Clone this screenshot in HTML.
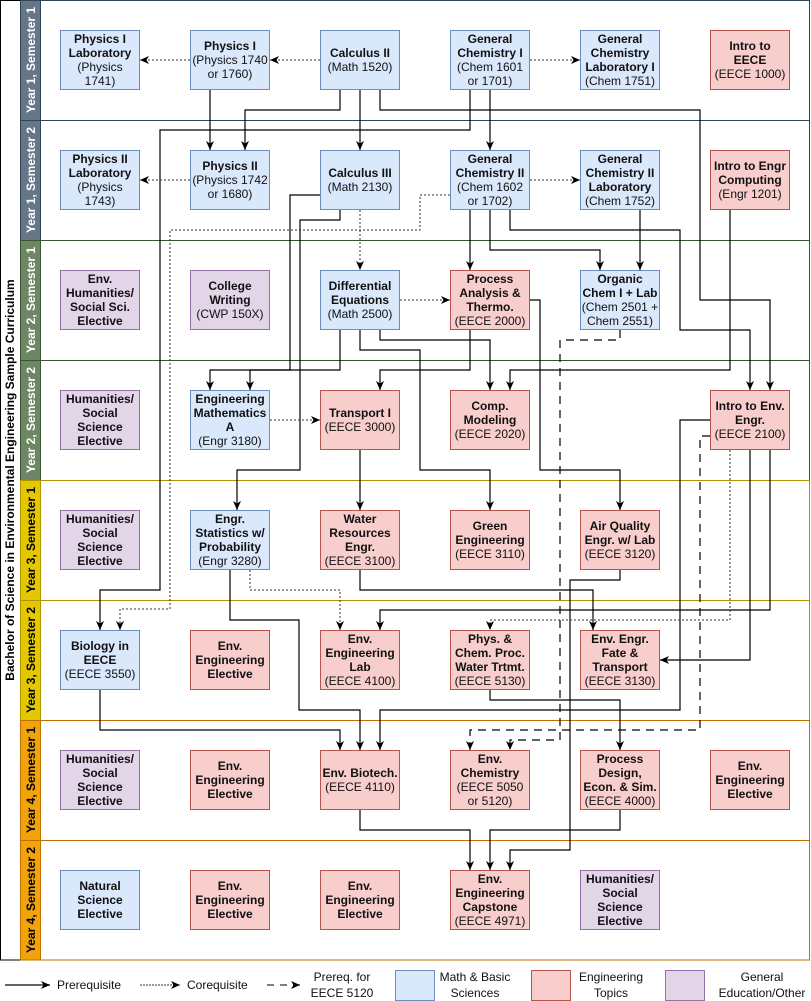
<!DOCTYPE html>
<html><head><meta charset="utf-8"><style>
body{margin:0;background:#fff;}
#w{position:relative;width:811px;height:1001px;overflow:hidden;font-family:"Liberation Sans",Arial,sans-serif;}
.n{position:absolute;width:80px;height:60px;box-sizing:border-box;border:1px solid;display:flex;align-items:center;justify-content:center;text-align:center;font-size:12px;line-height:14px;white-space:nowrap;color:#111;}
.b{background:#dae8fc;border-color:#6c8ebf;}
.r{background:#f8cecc;border-color:#b85450;}
.p{background:#e1d5e7;border-color:#9673a6;}
svg{position:absolute;left:0;top:0;}
</style></head><body><div id="w">
<svg width="811" height="1001" font-family="Liberation Sans, Arial, sans-serif">
<defs>
<marker id="m" markerUnits="userSpaceOnUse" markerWidth="10" markerHeight="10" refX="9" refY="5" orient="auto"><path d="M0,1 L9,5 L0,9 L2.5,5 Z" fill="#000"/></marker>
</defs>
<rect x="0.5" y="0.5" width="20" height="959.5" fill="#fff" stroke="#000"/>
<text transform="translate(14,480) rotate(-90)" text-anchor="middle" font-size="12" font-weight="bold">Bachelor of Science in Environmental Engineering Sample Curriculum</text>
<g font-size="12" font-weight="bold" fill="#fff" text-anchor="middle">
<rect x="20.5" y="0.5" width="789" height="120" fill="none" stroke="#314354"/>
<rect x="20.5" y="0.5" width="20" height="120" fill="#647687" stroke="#314354"/>
<text transform="translate(35,60) rotate(-90)">Year 1, Semester 1</text>
<rect x="20.5" y="120.5" width="789" height="120" fill="none" stroke="#314354"/>
<rect x="20.5" y="120.5" width="20" height="120" fill="#647687" stroke="#314354"/>
<text transform="translate(35,180) rotate(-90)">Year 1, Semester 2</text>
<rect x="20.5" y="240.5" width="789" height="120" fill="none" stroke="#3A5431"/>
<rect x="20.5" y="240.5" width="20" height="120" fill="#6d8764" stroke="#3A5431"/>
<text transform="translate(35,300) rotate(-90)">Year 2, Semester 1</text>
<rect x="20.5" y="360.5" width="789" height="120" fill="none" stroke="#3A5431"/>
<rect x="20.5" y="360.5" width="20" height="120" fill="#6d8764" stroke="#3A5431"/>
<text transform="translate(35,420) rotate(-90)">Year 2, Semester 2</text>
</g>
<g font-size="12" font-weight="bold" fill="#000" text-anchor="middle">
<rect x="20.5" y="480.5" width="789" height="120" fill="none" stroke="#B09500"/>
<rect x="20.5" y="480.5" width="20" height="120" fill="#e3c800" stroke="#B09500"/>
<text transform="translate(35,540) rotate(-90)">Year 3, Semester 1</text>
<rect x="20.5" y="600.5" width="789" height="120" fill="none" stroke="#B09500"/>
<rect x="20.5" y="600.5" width="20" height="120" fill="#e3c800" stroke="#B09500"/>
<text transform="translate(35,660) rotate(-90)">Year 3, Semester 2</text>
<rect x="20.5" y="720.5" width="789" height="120" fill="none" stroke="#BD7000"/>
<rect x="20.5" y="720.5" width="20" height="120" fill="#f0a30a" stroke="#BD7000"/>
<text transform="translate(35,780) rotate(-90)">Year 4, Semester 1</text>
<rect x="20.5" y="840.5" width="789" height="119.5" fill="none" stroke="#BD7000"/>
<rect x="20.5" y="840.5" width="20" height="119.5" fill="#f0a30a" stroke="#BD7000"/>
<text transform="translate(35,900) rotate(-90)">Year 4, Semester 2</text>
</g>
<g fill="none" stroke="#000" stroke-width="1.2" marker-end="url(#m)">
<path d="M210 90V150"/><path d="M360 90V150"/><path d="M490 90V150"/>
<path d="M340 90V110H245V150"/>
<path d="M470 90V130H160V590H100V630"/>
<path d="M380 90V110H700V300H770V390"/>
<path d="M320 195H290V370H210V390"/>
<path d="M340 210V220H300V470H237V510"/>
<path d="M340 330V370H250V390"/>
<path d="M470 210V270"/>
<path d="M490 210V250H600V270"/>
<path d="M510 210V230H680V330H750V390"/>
<path d="M640 210V270"/>
<path d="M730 210V370H510V390"/>
<path d="M470 330V370H380V390"/>
<path d="M380 330V340H490V390"/>
<path d="M360 330V350H420V470H490V510"/>
<path d="M530 300H540V470H620V510"/>
<path d="M360 450V510"/>
<path d="M360 570V590H593V630"/>
<path d="M620 570V580H570V850H510V870"/>
<path d="M230 570V620H299V710H360V750"/>
<path d="M710 420H680V710H380V750"/>
<path d="M750 450V660H660"/>
<path d="M770 450V610H380V630"/>
<path d="M100 690V730H340V750"/>
<path d="M490 690V700H620V750"/>
<path d="M360 810V830H470V870"/>
<path d="M620 810V830H490V870"/>
</g>
<g fill="none" stroke="#333" stroke-width="1" stroke-dasharray="2,2" marker-end="url(#m)">
<path d="M190 60H140"/><path d="M320 60H270"/><path d="M530 60H580"/>
<path d="M190 180H140"/><path d="M530 180H580"/><path d="M360 210V270"/>
<path d="M400 300H450"/><path d="M270 420H320"/>
<path d="M450 195H420V230H170V609H120V630"/>
<path d="M250 570V590H340V630"/>
<path d="M730 450V620H490V630"/>
</g>
<g fill="none" stroke="#000" stroke-width="1.2" stroke-dasharray="8,6" marker-end="url(#m)">
<path d="M620 330V340H560V740H510V750"/>
<path d="M710 436H700V730H470V750"/>
</g>
<g font-size="12" fill="#111">
<path d="M5 985H50" stroke="#333" stroke-width="1.5" marker-end="url(#m)"/>
<text x="57" y="989">Prerequisite</text>
<path d="M140 985H180" stroke="#333" stroke-width="1" stroke-dasharray="2,1" marker-end="url(#m)"/>
<text x="187" y="989">Corequisite</text>
<path d="M267 985H300" stroke="#333" stroke-width="1.2" stroke-dasharray="7,6" marker-end="url(#m)"/>
<text x="342" y="981" text-anchor="middle">Prereq. for</text>
<text x="342" y="997" text-anchor="middle">EECE 5120</text>
<rect x="395.5" y="970.5" width="39" height="30" fill="#dae8fc" stroke="#6c8ebf"/>
<text x="475" y="981" text-anchor="middle">Math &amp; Basic</text>
<text x="475" y="997" text-anchor="middle">Sciences</text>
<rect x="531.5" y="970.5" width="39" height="30" fill="#f8cecc" stroke="#b85450"/>
<text x="611" y="981" text-anchor="middle">Engineering</text>
<text x="611" y="997" text-anchor="middle">Topics</text>
<rect x="665.5" y="970.5" width="39" height="30" fill="#e1d5e7" stroke="#9673a6"/>
<text x="762" y="981" text-anchor="middle">General</text>
<text x="762" y="997" text-anchor="middle">Education/Other</text>
</g>
</svg>
<!-- Row 0 -->
<div class="n b" style="left:60px;top:30px"><div><b>Physics I<br>Laboratory</b><br>(Physics<br>1741)</div></div>
<div class="n b" style="left:190px;top:30px"><div><b>Physics I</b><br>(Physics 1740<br>or 1760)</div></div>
<div class="n b" style="left:320px;top:30px"><div><b>Calculus II</b><br>(Math 1520)</div></div>
<div class="n b" style="left:450px;top:30px"><div><b>General<br>Chemistry I</b><br>(Chem 1601<br>or 1701)</div></div>
<div class="n b" style="left:580px;top:30px"><div><b>General<br>Chemistry<br>Laboratory I</b><br>(Chem 1751)</div></div>
<div class="n r" style="left:710px;top:30px"><div><b>Intro to<br>EECE</b><br>(EECE 1000)</div></div>
<!-- Row 1 -->
<div class="n b" style="left:60px;top:150px"><div><b>Physics II<br>Laboratory</b><br>(Physics<br>1743)</div></div>
<div class="n b" style="left:190px;top:150px"><div><b>Physics II</b><br>(Physics 1742<br>or 1680)</div></div>
<div class="n b" style="left:320px;top:150px"><div><b>Calculus III</b><br>(Math 2130)</div></div>
<div class="n b" style="left:450px;top:150px"><div><b>General<br>Chemistry II</b><br>(Chem 1602<br>or 1702)</div></div>
<div class="n b" style="left:580px;top:150px"><div><b>General<br>Chemistry II<br>Laboratory</b><br>(Chem 1752)</div></div>
<div class="n r" style="left:710px;top:150px"><div><b>Intro to Engr<br>Computing</b><br>(Engr 1201)</div></div>
<!-- Row 2 -->
<div class="n p" style="left:60px;top:270px"><div><b>Env.<br>Humanities/<br>Social Sci.<br>Elective</b></div></div>
<div class="n p" style="left:190px;top:270px"><div><b>College<br>Writing</b><br>(CWP 150X)</div></div>
<div class="n b" style="left:320px;top:270px"><div><b>Differential<br>Equations</b><br>(Math 2500)</div></div>
<div class="n r" style="left:450px;top:270px"><div><b>Process<br>Analysis &amp;<br>Thermo.</b><br>(EECE 2000)</div></div>
<div class="n b" style="left:580px;top:270px"><div><b>Organic<br>Chem I + Lab</b><br>(Chem 2501 +<br>Chem 2551)</div></div>
<!-- Row 3 -->
<div class="n p" style="left:60px;top:390px"><div><b>Humanities/<br>Social<br>Science<br>Elective</b></div></div>
<div class="n b" style="left:190px;top:390px"><div><b>Engineering<br>Mathematics<br>A</b><br>(Engr 3180)</div></div>
<div class="n r" style="left:320px;top:390px"><div><b>Transport I</b><br>(EECE 3000)</div></div>
<div class="n r" style="left:450px;top:390px"><div><b>Comp.<br>Modeling</b><br>(EECE 2020)</div></div>
<div class="n r" style="left:710px;top:390px"><div><b>Intro to Env.<br>Engr.</b><br>(EECE 2100)</div></div>
<!-- Row 4 -->
<div class="n p" style="left:60px;top:510px"><div><b>Humanities/<br>Social<br>Science<br>Elective</b></div></div>
<div class="n b" style="left:190px;top:510px"><div><b>Engr.<br>Statistics w/<br>Probability</b><br>(Engr 3280)</div></div>
<div class="n r" style="left:320px;top:510px"><div><b>Water<br>Resources<br>Engr.</b><br>(EECE 3100)</div></div>
<div class="n r" style="left:450px;top:510px"><div><b>Green<br>Engineering</b><br>(EECE 3110)</div></div>
<div class="n r" style="left:580px;top:510px"><div><b>Air Quality<br>Engr. w/ Lab</b><br>(EECE 3120)</div></div>
<!-- Row 5 -->
<div class="n b" style="left:60px;top:630px"><div><b>Biology in<br>EECE</b><br>(EECE 3550)</div></div>
<div class="n r" style="left:190px;top:630px"><div><b>Env.<br>Engineering<br>Elective</b></div></div>
<div class="n r" style="left:320px;top:630px"><div><b>Env.<br>Engineering<br>Lab</b><br>(EECE 4100)</div></div>
<div class="n r" style="left:450px;top:630px"><div><b>Phys. &amp;<br>Chem. Proc.<br>Water Trtmt.</b><br>(EECE 5130)</div></div>
<div class="n r" style="left:580px;top:630px"><div><b>Env. Engr.<br>Fate &amp;<br>Transport</b><br>(EECE 3130)</div></div>
<!-- Row 6 -->
<div class="n p" style="left:60px;top:750px"><div><b>Humanities/<br>Social<br>Science<br>Elective</b></div></div>
<div class="n r" style="left:190px;top:750px"><div><b>Env.<br>Engineering<br>Elective</b></div></div>
<div class="n r" style="left:320px;top:750px"><div><b>Env. Biotech.</b><br>(EECE 4110)</div></div>
<div class="n r" style="left:450px;top:750px"><div><b>Env.<br>Chemistry</b><br>(EECE 5050<br>or 5120)</div></div>
<div class="n r" style="left:580px;top:750px"><div><b>Process<br>Design,<br>Econ. &amp; Sim.</b><br>(EECE 4000)</div></div>
<div class="n r" style="left:710px;top:750px"><div><b>Env.<br>Engineering<br>Elective</b></div></div>
<!-- Row 7 -->
<div class="n b" style="left:60px;top:870px"><div><b>Natural<br>Science<br>Elective</b></div></div>
<div class="n r" style="left:190px;top:870px"><div><b>Env.<br>Engineering<br>Elective</b></div></div>
<div class="n r" style="left:320px;top:870px"><div><b>Env.<br>Engineering<br>Elective</b></div></div>
<div class="n r" style="left:450px;top:870px"><div><b>Env.<br>Engineering<br>Capstone</b><br>(EECE 4971)</div></div>
<div class="n p" style="left:580px;top:870px"><div><b>Humanities/<br>Social<br>Science<br>Elective</b></div></div>
</div></body></html>
